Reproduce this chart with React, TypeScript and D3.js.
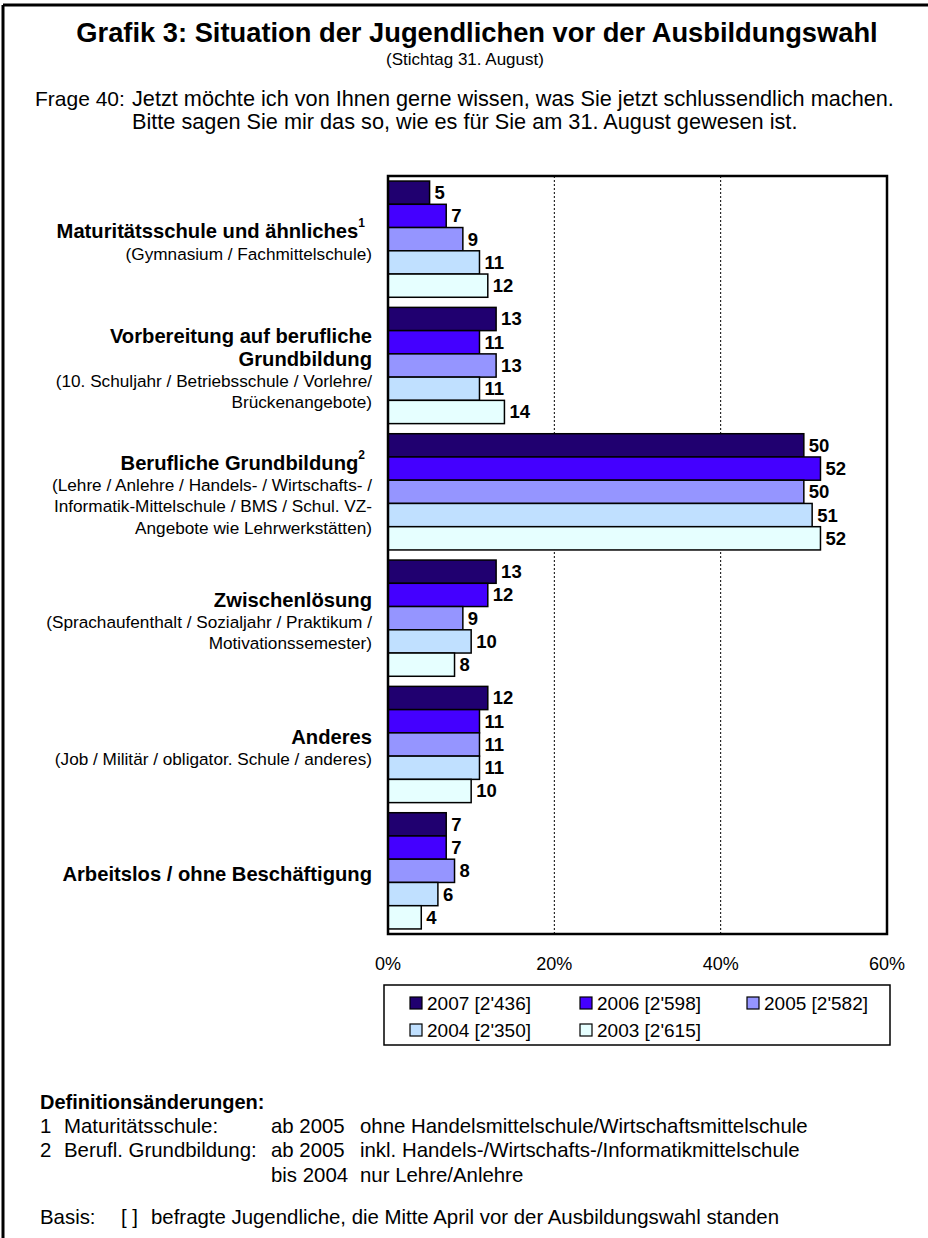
import * as d3 from 'd3'

const categories = [
  'Maturitätsschule',
  'Vorbereitung',
  'Berufliche Grundbildung',
  'Zwischenlösung',
  'Anderes',
  'Arbeitslos',
]

// label lines per category: [text, bold, superscript]
const categoryLabels: { text: string; bold: boolean; sup?: string }[][] = [
  [
    { text: 'Maturitätsschule und ähnliches', bold: true, sup: '1' },
    { text: '(Gymnasium / Fachmittelschule)', bold: false },
  ],
  [
    { text: 'Vorbereitung auf berufliche', bold: true },
    { text: 'Grundbildung', bold: true },
    { text: '(10. Schuljahr / Betriebsschule / Vorlehre/', bold: false },
    { text: 'Brückenangebote)', bold: false },
  ],
  [
    { text: 'Berufliche Grundbildung', bold: true, sup: '2' },
    { text: '(Lehre / Anlehre / Handels- / Wirtschafts- /', bold: false },
    { text: 'Informatik-Mittelschule / BMS / Schul. VZ-', bold: false },
    { text: 'Angebote wie Lehrwerkstätten)', bold: false },
  ],
  [
    { text: 'Zwischenlösung', bold: true },
    { text: '(Sprachaufenthalt / Sozialjahr / Praktikum /', bold: false },
    { text: 'Motivationssemester)', bold: false },
  ],
  [
    { text: 'Anderes', bold: true },
    { text: '(Job / Militär / obligator. Schule / anderes)', bold: false },
  ],
  [{ text: 'Arbeitslos / ohne Beschäftigung', bold: true }],
]

const years = ['2007', '2006', '2005', '2004', '2003']
const legendLabels = ['2007 [2\'436]', '2006 [2\'598]', '2005 [2\'582]', '2004 [2\'350]', '2003 [2\'615]']
const colors = ['#200070', '#4400ff', '#9595ff', '#c0e0ff', '#e6ffff']

const v2007 = [5, 13, 50, 13, 12, 7]
const v2006 = [7, 11, 52, 12, 11, 7]
const v2005 = [9, 13, 50, 9, 11, 8]
const v2004 = [11, 11, 51, 10, 11, 6]
const v2003 = [12, 14, 52, 8, 10, 4]
const series = [v2007, v2006, v2005, v2004, v2003]

const xTicks = [0, 20, 40, 60]

const FONT = '"Liberation Sans", Arial, sans-serif'

export default function App() {
  const width = 928
  const height = 1238
  const plot = { left: 388, right: 887, top: 176, bottom: 934 }

  const x = d3.scaleLinear().domain([0, 60]).range([plot.left, plot.right])
  const y = d3.scaleBand<number>()
    .domain(d3.range(categories.length))
    .range([plot.top, plot.bottom])
    .paddingInner(0.08)
    .paddingOuter(0.04)
  const yInner = d3.scaleBand<number>()
    .domain(d3.range(years.length))
    .range([0, y.bandwidth()])

  const boldH = 23
  const subH = 21.5

  return (
    <svg width={width} height={height} style={{ position: 'absolute', left: 0, top: 0, background: '#fff' }}
      fontFamily={FONT}>
      {/* page frame */}
      <line x1={3} y1={5} x2={928} y2={5} stroke="#000" strokeWidth={3} />
      <line x1={3} y1={5} x2={3} y2={1238} stroke="#000" strokeWidth={3} />

      {/* header */}
      <text x={477} y={42} textAnchor="middle" fontWeight="bold" fontSize={27.3}>
        Grafik 3: Situation der Jugendlichen vor der Ausbildungswahl
      </text>
      <text x={465} y={65} textAnchor="middle" fontSize={17}>(Stichtag 31. August)</text>
      <text x={35} y={106} fontSize={21}>Frage 40:</text>
      <text x={132} y={106} fontSize={21.7}>
        Jetzt möchte ich von Ihnen gerne wissen, was Sie jetzt schlussendlich machen.
      </text>
      <text x={132} y={129} fontSize={21.7}>
        Bitte sagen Sie mir das so, wie es für Sie am 31. August gewesen ist.
      </text>

      {/* grid lines */}
      {xTicks.slice(1, -1).map(t => (
        <line key={t} x1={x(t)} x2={x(t)} y1={plot.top} y2={plot.bottom}
          stroke="#000" strokeWidth={1} strokeDasharray="2,2" />
      ))}

      {/* bars */}
      {categories.map((_c, ci) => (
        <g key={ci} transform={`translate(0,${y(ci)})`}>
          {series.map((vals, si) => (
            <g key={si}>
              <rect x={x(0)} y={yInner(si)} width={x(vals[ci]) - x(0)} height={yInner.bandwidth()}
                fill={colors[si]} stroke="#000" strokeWidth={1.5} />
              <text x={x(vals[ci]) + 5} y={(yInner(si) ?? 0) + yInner.bandwidth() / 2}
                dominantBaseline="central" fontWeight="bold" fontSize={18.5}>
                {vals[ci]}
              </text>
            </g>
          ))}
        </g>
      ))}

      {/* plot frame */}
      <rect x={plot.left} y={plot.top} width={plot.right - plot.left} height={plot.bottom - plot.top}
        fill="none" stroke="#000" strokeWidth={2.5} />

      {/* category labels */}
      {categoryLabels.map((lines, ci) => {
        const heights = lines.map(l => (l.bold ? boldH : subH))
        const total = d3.sum(heights)
        const center = (y(ci) ?? 0) + y.bandwidth() / 2 + 3
        let cur = center - total / 2
        return (
          <g key={ci}>
            {lines.map((l, li) => {
              const h = heights[li]
              const cy = cur + h / 2
              cur += h
              return (
                <text key={li} x={l.sup ? 365 : 372} y={cy} textAnchor="end" dominantBaseline="central"
                  fontWeight={l.bold ? 'bold' : 'normal'} fontSize={l.bold ? 20.2 : 17.2}>
                  {l.text}
                  {l.sup && (
                    <tspan fontSize={12} dy={-8}>{l.sup}</tspan>
                  )}
                </text>
              )
            })}
          </g>
        )
      })}

      {/* x tick labels */}
      {xTicks.map(t => (
        <text key={t} x={x(t)} y={964} textAnchor="middle" dominantBaseline="central" fontSize={18}>
          {t}%
        </text>
      ))}

      {/* legend */}
      <rect x={384} y={985} width={506} height={60} fill="#fff" stroke="#000" strokeWidth={1.5} />
      {legendLabels.map((lab, i) => {
        const col = i % 3
        const row = Math.floor(i / 3)
        const lx = [410, 580, 747][col]
        const ly = 1003 + row * 27
        return (
          <g key={lab}>
            <rect x={lx} y={ly - 6} width={12} height={12} fill={colors[i]} stroke="#000" strokeWidth={1.2} />
            <text x={lx + 17} y={ly} dominantBaseline="central" fontSize={19}>{lab}</text>
          </g>
        )
      })}

      {/* footnotes */}
      <text x={40} y={1109} fontWeight="bold" fontSize={20}>Definitionsänderungen:</text>
      <g fontSize={20.4}>
        <text x={40} y={1133}>1</text>
        <text x={64} y={1133}>Maturitätsschule:</text>
        <text x={271} y={1133}>ab 2005</text>
        <text x={360} y={1133}>ohne Handelsmittelschule/Wirtschaftsmittelschule</text>
        <text x={40} y={1157}>2</text>
        <text x={64} y={1157}>Berufl. Grundbildung:</text>
        <text x={271} y={1157}>ab 2005</text>
        <text x={360} y={1157}>inkl. Handels-/Wirtschafts-/Informatikmittelschule</text>
        <text x={271} y={1182}>bis 2004</text>
        <text x={360} y={1182}>nur Lehre/Anlehre</text>
        <text x={40} y={1224}>Basis:</text>
        <text x={121} y={1224}>[ ]</text>
        <text x={151} y={1224}>befragte Jugendliche, die Mitte April vor der Ausbildungswahl standen</text>
      </g>
    </svg>
  )
}
